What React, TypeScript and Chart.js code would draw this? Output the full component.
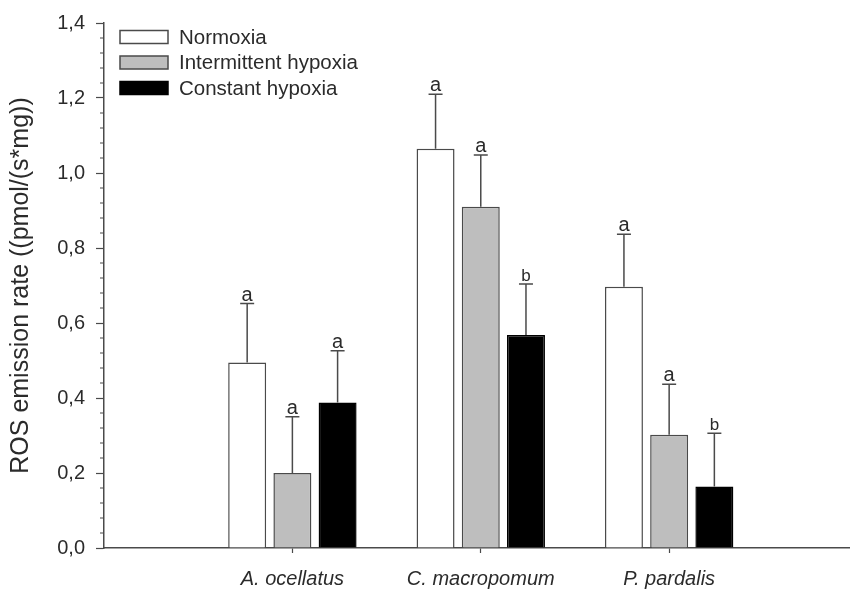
import React, { useEffect, useRef } from "react";
import { Chart, registerables } from "chart.js";

Chart.register(...registerables);

const categories = ["A. ocellatus", "C. macropomum", "P. pardalis"];
const categoryPositions = [1, 2, 3];
const seriesNames = ["Normoxia", "Intermittent hypoxia", "Constant hypoxia"];

const normoxia = [0.495, 1.065, 0.697];
const intermittent = [0.2, 0.91, 0.302];
const constant = [0.388, 0.568, 0.164];

const normoxiaErr = [0.157, 0.145, 0.14];
const intermittentErr = [0.15, 0.138, 0.135];
const constantErr = [0.138, 0.136, 0.142];

const normoxiaLetters = ["a", "a", "a"];
const intermittentLetters = ["a", "a", "a"];
const constantLetters = ["a", "b", "b"];

const yMin = 0;
const yMax = 1.4;
const yMajorStep = 0.2;
const yMinorStep = 0.04;

const FONT = "'Liberation Sans', Arial, Helvetica, sans-serif";
const TEXT = "#2b2b2b";
const AXIS = "#4a4a4a";

const errors = [normoxiaErr, intermittentErr, constantErr];
const letters = [normoxiaLetters, intermittentLetters, constantLetters];

const errorBarPlugin = {
  id: "errorBars",
  afterDatasetsDraw(chart: any) {
    const ctx = chart.ctx;
    const yScale = chart.scales.y;
    chart.data.datasets.forEach((ds: any, di: number) => {
      const meta = chart.getDatasetMeta(di);
      meta.data.forEach((el: any, i: number) => {
        const v = ds.data[i].y;
        const top = yScale.getPixelForValue(v + errors[di][i]);
        const x = el.x;
        ctx.save();
        ctx.strokeStyle = AXIS;
        ctx.lineWidth = 1.5;
        ctx.beginPath();
        ctx.moveTo(x, el.y);
        ctx.lineTo(x, top);
        ctx.moveTo(x - 7, top);
        ctx.lineTo(x + 7, top);
        ctx.stroke();
        const letter = letters[di][i];
        ctx.fillStyle = TEXT;
        ctx.font = `${letter === "b" ? 17 : 20}px ${FONT}`;
        ctx.textAlign = "center";
        ctx.textBaseline = "alphabetic";
        ctx.fillText(letter, x, top - 3);
        ctx.restore();
      });
    });
  },
};

const minorTickPlugin = {
  id: "minorTicks",
  afterDraw(chart: any) {
    const ctx = chart.ctx;
    const yScale = chart.scales.y;
    const axisX = chart.chartArea.left;
    const n = Math.round((yMax - yMin) / yMinorStep);
    const ratio = Math.round(yMajorStep / yMinorStep);
    ctx.save();
    ctx.strokeStyle = AXIS;
    ctx.lineWidth = 1.2;
    ctx.beginPath();
    for (let i = 1; i < n; i++) {
      if (i % ratio === 0) continue;
      const y = yScale.getPixelForValue(yMin + i * yMinorStep);
      ctx.moveTo(axisX - 4, y);
      ctx.lineTo(axisX, y);
    }
    ctx.stroke();
    ctx.restore();
  },
};

const legendPlugin = {
  id: "customLegend",
  afterDraw(chart: any) {
    const ctx = chart.ctx;
    const x0 = 120;
    const boxW = 48;
    const boxH = 13;
    const y0 = 37;
    const rowH = 25.5;
    ctx.save();
    chart.data.datasets.forEach((ds: any, i: number) => {
      const cy = y0 + i * rowH;
      ctx.fillStyle = ds.backgroundColor;
      ctx.fillRect(x0, cy - boxH / 2, boxW, boxH);
      ctx.strokeStyle = ds.borderColor;
      ctx.lineWidth = 1.5;
      ctx.strokeRect(x0, cy - boxH / 2, boxW, boxH);
      ctx.fillStyle = TEXT;
      ctx.font = `20.5px ${FONT}`;
      ctx.textAlign = "left";
      ctx.textBaseline = "middle";
      ctx.fillText(ds.label, x0 + 59, cy + 1);
    });
    ctx.restore();
  },
};

export default function App() {
  const ref = useRef<HTMLCanvasElement | null>(null);

  useEffect(() => {
    if (!ref.current) return;
    const mk = (vals: number[]) => vals.map((v, i) => ({ x: categoryPositions[i], y: v }));
    const chart = new Chart(ref.current, {
      type: "bar",
      data: {
        datasets: [
          {
            label: seriesNames[0],
            data: mk(normoxia),
            backgroundColor: "#ffffff",
            borderColor: AXIS,
            borderWidth: 1.5,
          },
          {
            label: seriesNames[1],
            data: mk(intermittent),
            backgroundColor: "#bebebe",
            borderColor: AXIS,
            borderWidth: 1.5,
          },
          {
            label: seriesNames[2],
            data: mk(constant),
            backgroundColor: "#000000",
            borderColor: "#000000",
            borderWidth: 1.5,
          },
        ] as any,
      },
      options: {
        responsive: false,
        animation: false,
        layout: { padding: { top: 23, left: 0, right: 0, bottom: 0 } },
        datasets: {
          bar: { categoryPercentage: 0.72, barPercentage: 0.84 },
        } as any,
        plugins: {
          legend: { display: false },
          tooltip: { enabled: false },
        },
        scales: {
          x: {
            type: "linear",
            min: 0,
            max: 3.96,
            offset: false,
            afterBuildTicks: (s: any) => {
              s.ticks = categoryPositions.map((v) => ({ value: v }));
            },
            afterFit: (s: any) => {
              s.height = 42;
            },
            grid: {
              display: true,
              offset: false,
              drawOnChartArea: false,
              drawTicks: true,
              tickLength: 5,
              tickColor: AXIS,
              tickWidth: 1.2,
            },
            border: { display: true, color: AXIS, width: 1.5 },
            ticks: {
              autoSkip: false,
              maxRotation: 0,
              padding: 14,
              color: TEXT,
              font: { family: FONT, size: 20, style: "italic" },
              callback: (value: any) => {
                const idx = categoryPositions.indexOf(Number(value));
                return idx >= 0 ? categories[idx] : "";
              },
            },
          },
          y: {
            type: "linear",
            min: yMin,
            max: yMax,
            afterFit: (s: any) => {
              s.width = 104;
            },
            grid: {
              display: true,
              drawOnChartArea: false,
              drawTicks: true,
              tickLength: 8,
              tickColor: AXIS,
              tickWidth: 1.2,
            },
            border: { display: true, color: AXIS, width: 1.5 },
            ticks: {
              stepSize: yMajorStep,
              padding: 11,
              color: TEXT,
              font: { family: FONT, size: 20 },
              callback: (value: any) => Number(value).toFixed(1).replace(".", ","),
            },
            title: {
              display: true,
              text: "ROS emission rate ((pmol/(s*mg))",
              color: TEXT,
              font: { family: FONT, size: 25 },
              padding: { top: 6, bottom: 0 },
            },
          },
        },
      },
      plugins: [errorBarPlugin, minorTickPlugin, legendPlugin],
    });
    return () => chart.destroy();
  }, []);

  return (
    <div style={{ position: "absolute", left: 0, top: 0, width: 850, height: 590, background: "#fff" }}>
      <canvas ref={ref} width={850} height={590} />
    </div>
  );
}
